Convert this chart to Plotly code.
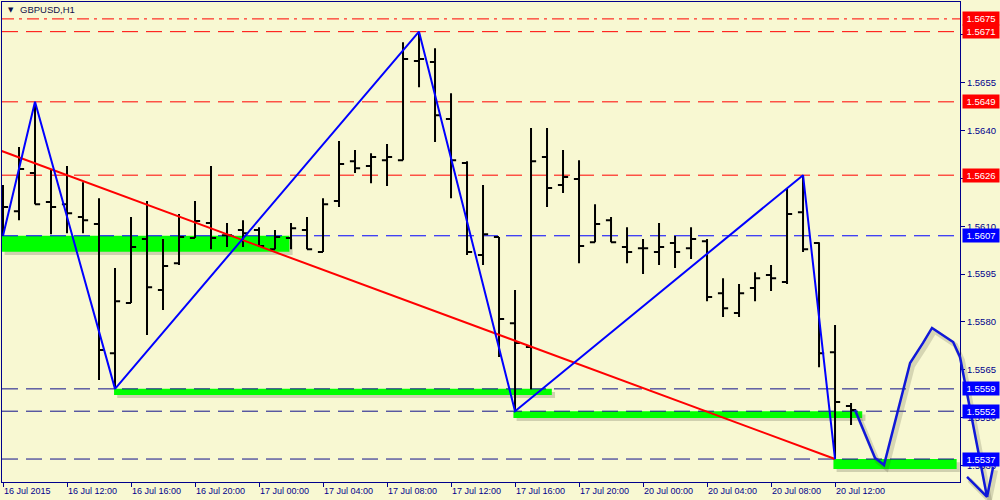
import plotly.graph_objects as go

# GBPUSD H1 bars, index 0 = 16 Jul 2015 08:00 (weekend gap after 17 Jul 23:00)
bar_idx = list(range(54))
opens = [1.56110, 1.56147, 1.56267, 1.56176, 1.56169, 1.56129, 1.56107, 1.55702, 1.55859, 1.56060,
         1.55900, 1.55984, 1.56063, 1.56110, 1.56072, 1.56088, 1.56088, 1.56028, 1.56063, 1.56088,
         1.56019, 1.56179, 1.56304, 1.56289, 1.56307, 1.56307, 1.56618, 1.56615, 1.56436, 1.56298,
         1.56010, 1.56066, 1.55796, 1.55721, 1.56317, 1.56229, 1.56248, 1.56050, 1.56119, 1.56035,
         1.56031, 1.56019, 1.56047, 1.56031, 1.56053, 1.55890, 1.55828, 1.55906, 1.55947, 1.55925,
         1.56144, 1.56047, 1.55705, 1.55536]
highs = [1.56229, 1.56348, 1.56489, 1.56279, 1.56289, 1.56238, 1.56188, 1.55969, 1.56129, 1.56179,
         1.56060, 1.56138, 1.56179, 1.56289, 1.56110, 1.56119, 1.56097, 1.56088, 1.56110, 1.56129,
         1.56188, 1.56367, 1.56339, 1.56329, 1.56358, 1.56677, 1.56705, 1.56658, 1.56517, 1.56304,
         1.56229, 1.56066, 1.55900, 1.56408, 1.56408, 1.56339, 1.56307, 1.56169, 1.56129, 1.56097,
         1.56060, 1.56110, 1.56069, 1.56097, 1.56060, 1.55937, 1.55919, 1.55956, 1.55978, 1.56220,
         1.56257, 1.56050, 1.55790, 1.55546]
lows = [1.56069, 1.56119, 1.56169, 1.56075, 1.56078, 1.56078, 1.55618, 1.55593, 1.55859, 1.55759,
        1.55837, 1.55978, 1.56063, 1.56028, 1.56035, 1.56035, 1.56035, 1.56028, 1.56028, 1.56028,
        1.56019, 1.56160, 1.56267, 1.56235, 1.56226, 1.56307, 1.56536, 1.56364, 1.56188, 1.56010,
        1.55978, 1.55690, 1.55524, 1.55589, 1.56160, 1.56204, 1.55984, 1.56050, 1.56050, 1.55984,
        1.55950, 1.55978, 1.55969, 1.55997, 1.55865, 1.55815, 1.55815, 1.55865, 1.55897, 1.55919,
        1.56019, 1.55658, 1.55370, 1.55477]
closes = [1.56160, 1.56279, 1.56169, 1.56160, 1.56141, 1.56119, 1.55712, 1.55865, 1.56035, 1.55909,
          1.55975, 1.56066, 1.56116, 1.56063, 1.56072, 1.56078, 1.56038, 1.56066, 1.56094, 1.56028,
          1.56169, 1.56295, 1.56282, 1.56317, 1.56317, 1.56624, 1.56624, 1.56448, 1.56307, 1.56019,
          1.56075, 1.55809, 1.55734, 1.56304, 1.56220, 1.56254, 1.56038, 1.56107, 1.56050, 1.56019,
          1.56031, 1.56035, 1.56019, 1.56060, 1.55878, 1.55843, 1.55890, 1.55937, 1.55937, 1.56138,
          1.56028, 1.55702, 1.55549, 1.55524]

tick_pos = list(range(0, 54, 4))
tick_text = ["16 Jul 2015", "16 Jul 12:00", "16 Jul 16:00", "16 Jul 20:00",
             "17 Jul 00:00", "17 Jul 04:00", "17 Jul 08:00", "17 Jul 12:00",
             "17 Jul 16:00", "17 Jul 20:00", "20 Jul 00:00", "20 Jul 04:00",
             "20 Jul 08:00", "20 Jul 12:00"]

# horizontal levels
red_levels = [1.5671, 1.5649, 1.5626]
red_dashdot_level = 1.5675
blue_levels = [1.5607]
navy_levels = [1.5559, 1.5552, 1.5537]

# zigzag swing points
zz_bars = [0, 2, 7, 26, 32, 50, 52]
zz_prices = [1.5607, 1.5649, 1.5559, 1.5671, 1.5552, 1.5626, 1.5537]

# red trend line
trend_bars = [-0.1, 52]
trend_prices = [1.56336, 1.5537]

# green support zones: (bar from, bar to, price top, price bottom)
zone_x0 = [-0.1, 6.94, 31.9, 51.9]
zone_x1 = [17.9, 34.3, 53.7, 59.6]
zone_top = [1.5607, 1.5559, 1.5552, 1.5537]
zone_bot = [1.5602, 1.55571, 1.55499, 1.55339]

# hand drawn forecast path
fc_bars = [53.25, 54.5, 55.06, 56.69, 57.5, 58.06, 59.38, 59.81, 61.5, 60.25, None, 61.5, 61.88]
fc_prices = [1.55524, 1.55373, 1.55351, 1.55671, 1.55734, 1.55781, 1.55737, 1.55690, 1.55251,
             1.55314, None, 1.55251, 1.55345]

BG = "#F8F8D2"
AXC = "#00008C"
FONT = "Liberation Sans"

X_RANGE = [-0.0625, 59.81]
Y_RANGE = [1.55298, 1.56803]
X_DOM = [0.002, 0.96]
Y_DOM = [0.036, 0.996]

# overlay axes covering whole picture, same scale (for the forecast drawn past the axis)
kx = (X_DOM[1] - X_DOM[0]) / (X_RANGE[1] - X_RANGE[0])
ky = (Y_DOM[1] - Y_DOM[0]) / (Y_RANGE[1] - Y_RANGE[0])
X2_RANGE = [X_RANGE[0] - X_DOM[0] / kx, X_RANGE[1] + (1 - X_DOM[1]) / kx]
Y2_RANGE = [Y_RANGE[0] - Y_DOM[0] / ky, Y_RANGE[1] + (1 - Y_DOM[1]) / ky]

fig = go.Figure()

fig.add_trace(
    go.Ohlc(
        x=bar_idx, open=opens, high=highs, low=lows, close=closes,
        increasing=dict(line=dict(color="black", width=2)),
        decreasing=dict(line=dict(color="black", width=2)),
        tickwidth=0.32, hoverinfo="skip", showlegend=False,
    )
)

fig.add_trace(
    go.Scatter(x=trend_bars, y=trend_prices, mode="lines",
               line=dict(color="#FF0000", width=2), hoverinfo="skip", showlegend=False)
)

fig.add_trace(
    go.Scatter(x=zz_bars, y=zz_prices, mode="lines",
               line=dict(color="#0000FF", width=2), hoverinfo="skip", showlegend=False)
)

# forecast with soft shadow
fig.add_trace(
    go.Scatter(x=[b + 0.15 if b is not None else None for b in fc_bars],
               y=[p - 0.0001 if p is not None else None for p in fc_prices],
               mode="lines", line=dict(color="rgba(60,60,40,0.18)", width=5),
               xaxis="x2", yaxis="y2", hoverinfo="skip", showlegend=False)
)
fig.add_trace(
    go.Scatter(x=fc_bars, y=fc_prices, mode="lines",
               line=dict(color="#1018D8", width=2.5),
               xaxis="x2", yaxis="y2", hoverinfo="skip", showlegend=False)
)

shapes = []
# zones (shadow + green)
for x0, x1, t, b in zip(zone_x0, zone_x1, zone_top, zone_bot):
    shapes.append(dict(type="rect", xref="x", yref="y", x0=x0 + 0.2, x1=x1 + 0.2,
                       y0=t - 0.0001, y1=b - 0.0001, layer="below", line_width=0,
                       fillcolor="rgba(70,70,50,0.22)"))
    shapes.append(dict(type="rect", xref="x", yref="y", x0=x0, x1=x1, y0=t, y1=b,
                       layer="below", line_width=0, fillcolor="#00FF00"))

for lv in red_levels:
    shapes.append(dict(type="line", xref="x", yref="y", x0=X_RANGE[0], x1=X_RANGE[1],
                       y0=lv, y1=lv, layer="below",
                       line=dict(color="#FF0000", width=1, dash="16px,8px")))
shapes.append(dict(type="line", xref="x", yref="y", x0=X_RANGE[0], x1=X_RANGE[1],
                   y0=red_dashdot_level, y1=red_dashdot_level, layer="below",
                   line=dict(color="#FF0000", width=1, dash="12px,5px,3px,5px")))
for lv in blue_levels:
    shapes.append(dict(type="line", xref="x", yref="y", x0=X_RANGE[0], x1=X_RANGE[1],
                       y0=lv, y1=lv, layer="below",
                       line=dict(color="#0000FF", width=1, dash="16px,8px")))
for lv in navy_levels:
    shapes.append(dict(type="line", xref="x", yref="y", x0=X_RANGE[0], x1=X_RANGE[1],
                       y0=lv, y1=lv, layer="below",
                       line=dict(color="#10108C", width=1, dash="16px,8px")))

annotations = []
for lv in [red_dashdot_level] + red_levels:
    annotations.append(dict(xref="paper", yref="y", x=0.962, y=lv, xanchor="left",
                            yanchor="middle", text=f"{lv:.4f}", showarrow=False,
                            bgcolor="#FF0000", borderpad=1, width=34, height=11,
                            font=dict(family=FONT, size=9.5, color="white")))
for lv in blue_levels + navy_levels:
    annotations.append(dict(xref="paper", yref="y", x=0.962, y=lv, xanchor="left",
                            yanchor="middle", text=f"{lv:.4f}", showarrow=False,
                            bgcolor="#0000FF", borderpad=1, width=34, height=11,
                            font=dict(family=FONT, size=9.5, color="white")))

annotations.append(dict(xref="paper", yref="paper", x=0.006, y=0.981, xanchor="left",
                        yanchor="middle", text="▼", showarrow=False,
                        font=dict(family="DejaVu Sans", size=7, color="#10104A")))
annotations.append(dict(xref="paper", yref="paper", x=0.018, y=0.981, xanchor="left",
                        yanchor="middle", text="GBPUSD,H1", showarrow=False,
                        font=dict(family=FONT, size=9.5, color="#10104A")))

fig.update_layout(
    width=1000, height=500,
    margin=dict(l=0, r=0, t=0, b=0, autoexpand=False),
    paper_bgcolor=BG, plot_bgcolor="rgba(0,0,0,0)",
    showlegend=False,
    shapes=shapes, annotations=annotations,
    xaxis=dict(
        domain=X_DOM, range=X_RANGE, rangeslider=dict(visible=False), automargin=False,
        tickmode="array", tickvals=tick_pos, ticktext=tick_text,
        ticks="outside", ticklen=4, tickcolor=AXC, ticklabelposition="outside right",
        showgrid=False, zeroline=False, showline=True, linecolor=AXC, linewidth=1, mirror=True,
        tickfont=dict(family=FONT, size=9, color=AXC), fixedrange=True,
    ),
    yaxis=dict(
        domain=Y_DOM, range=Y_RANGE, side="right", automargin=False,
        tick0=1.5535, dtick=0.0015, tickformat=".4f",
        ticks="outside", ticklen=4, tickcolor=AXC,
        showgrid=False, zeroline=False, showline=True, linecolor=AXC, linewidth=1, mirror=True,
        tickfont=dict(family=FONT, size=9.5, color=AXC), fixedrange=True,
    ),
    xaxis2=dict(domain=[0, 1], range=X2_RANGE, anchor="y2", visible=False, fixedrange=True,
                automargin=False),
    yaxis2=dict(domain=[0, 1], range=Y2_RANGE, anchor="x2", visible=False, fixedrange=True,
                automargin=False),
)

# the page body has a default margin; drop it so the figure sits at the window corner
fig.write_html("out.html", post_script="document.body.style.margin='0';",
               config={"displayModeBar": False})
